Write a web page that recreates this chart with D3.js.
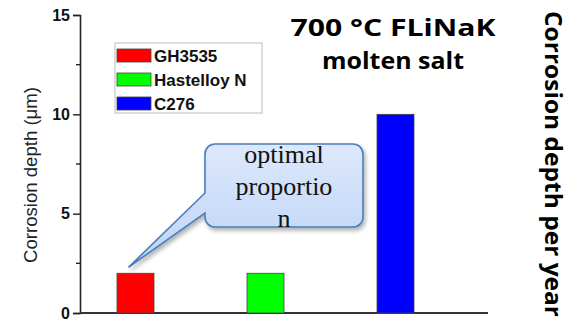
<!DOCTYPE html>
<html>
<head>
<meta charset="utf-8">
<script src="https://cdn.jsdelivr.net/npm/d3@7"></script>
<style>
  body { margin: 0; background: #fff; }
  svg { display: block; }
</style>
</head>
<body>
<div id="chart"></div>
<script>
var W = 573, H = 323;

// data
var categories = ["GH3535", "Hastelloy N", "C276"];
var depths = [2, 2, 10];
var barColors = ["#ff0000", "#00ff00", "#0000ff"];
var yTicks = [0, 5, 10, 15];
var yMinorTicks = [2.5, 7.5, 12.5];
var calloutLines = ["optimal", "proportio", "n"];
var titleLines = ["700 \u00b0C FLiNaK", "molten salt"];
var titleWidths = [205, 142];

var svg = d3.select("#chart").append("svg")
  .attr("width", W)
  .attr("height", H);

var y = d3.scaleLinear().domain([0, 15]).range([313, 15]);
var x = d3.scalePoint().domain(categories).range([135.5, 395.5]);
var barW = 37;

// axes
var yAxis = d3.axisLeft(y).tickValues(yTicks).tickSize(7).tickPadding(3);
var gy = svg.append("g").attr("transform", "translate(80,0)").call(yAxis);
gy.select(".domain").attr("stroke", "#222").attr("stroke-width", 1.6);
gy.selectAll(".tick line").attr("stroke", "#222").attr("stroke-width", 1.4);
gy.selectAll(".tick text")
  .attr("font-family", "Liberation Sans, Arial, sans-serif")
  .attr("font-weight", "bold")
  .attr("font-size", 16)
  .attr("fill", "#111");

// minor ticks
svg.append("g").selectAll("line")
  .data(yMinorTicks)
  .enter()
  .append("line")
  .attr("x1", 76).attr("x2", 80)
  .attr("y1", function(d){ return y(d); })
  .attr("y2", function(d){ return y(d); })
  .attr("stroke", "#222")
  .attr("stroke-width", 1.4);

// x axis line
svg.append("line")
  .attr("x1", 80).attr("x2", 488)
  .attr("y1", y(0)).attr("y2", y(0))
  .attr("stroke", "#333")
  .attr("stroke-width", 2);

// y label
svg.append("text")
  .attr("transform", "translate(37,175) rotate(-90)")
  .attr("text-anchor", "middle")
  .attr("font-family", "Liberation Sans, Arial, sans-serif")
  .attr("font-size", 18)
  .attr("fill", "#222")
  .attr("textLength", 176)
  .attr("lengthAdjust", "spacingAndGlyphs")
  .text("Corrosion depth (\u03bcm)");

// bars
svg.append("g").selectAll("rect")
  .data(depths)
  .enter()
  .append("rect")
  .attr("x", function(d, i){ return x(categories[i]) - barW / 2; })
  .attr("y", function(d){ return y(d); })
  .attr("width", barW)
  .attr("height", function(d){ return y(0) - y(d); })
  .attr("fill", function(d, i){ return barColors[i]; })
  .attr("stroke", "#444")
  .attr("stroke-width", 0.8);

// legend
var legend = svg.append("g").attr("transform", "translate(115,43)");
legend.append("rect")
  .attr("x", 0).attr("y", 0)
  .attr("width", 147).attr("height", 70)
  .attr("fill", "#fff")
  .attr("stroke", "#bbb")
  .attr("stroke-width", 1);
var items = legend.selectAll(".item")
  .data(categories)
  .enter()
  .append("g")
  .attr("class", "item")
  .attr("transform", function(d, i){ return "translate(2," + (6 + i * 24) + ")"; });
items.append("rect")
  .attr("width", 34).attr("height", 13)
  .attr("fill", function(d, i){ return barColors[i]; })
  .attr("stroke", "#444")
  .attr("stroke-width", 0.8);
items.append("text")
  .attr("x", 37).attr("y", 13)
  .attr("font-family", "Liberation Sans, Arial, sans-serif")
  .attr("font-weight", "bold")
  .attr("font-size", 17)
  .attr("fill", "#111")
  .text(String);

// callout
var defs = svg.append("defs");
var grad = defs.append("linearGradient")
  .attr("id", "callGrad")
  .attr("x1", 0).attr("y1", 0).attr("x2", 0).attr("y2", 1);
grad.append("stop").attr("offset", "0%").attr("stop-color", "#dde8fb");
grad.append("stop").attr("offset", "100%").attr("stop-color", "#bcd3f6");
var shadow = defs.append("filter").attr("id", "shadow")
  .attr("x", "-10%").attr("y", "-10%").attr("width", "130%").attr("height", "140%");
shadow.append("feDropShadow")
  .attr("dx", 2).attr("dy", 3).attr("stdDeviation", 2)
  .attr("flood-color", "#000").attr("flood-opacity", 0.3);

var bx0 = 205, by0 = 144, bx1 = 363, by1 = 227, r = 10;
var tipX = x(categories[0]) - 7, tipY = y(depths[0]) - 6;
var p = d3.path();
p.moveTo(bx0 + r, by0);
p.lineTo(bx1 - r, by0);
p.arcTo(bx1, by0, bx1, by0 + r, r);
p.lineTo(bx1, by1 - r);
p.arcTo(bx1, by1, bx1 - r, by1, r);
p.lineTo(bx0 + r, by1);
p.arcTo(bx0, by1, bx0, by1 - r, r);
p.lineTo(bx0, 213);
p.lineTo(tipX, tipY);
p.lineTo(bx0, 193);
p.lineTo(bx0, by0 + r);
p.arcTo(bx0, by0, bx0 + r, by0, r);
p.closePath();
svg.append("path")
  .attr("d", p.toString())
  .attr("fill", "url(#callGrad)")
  .attr("stroke", "#4a7ebb")
  .attr("stroke-width", 1.6)
  .attr("filter", "url(#shadow)");

svg.append("g").selectAll("text")
  .data(calloutLines)
  .enter()
  .append("text")
  .attr("x", 284)
  .attr("y", function(d, i){ return 163 + i * 32; })
  .attr("text-anchor", "middle")
  .attr("font-family", "Liberation Serif, Times New Roman, serif")
  .attr("font-size", 26)
  .attr("fill", "#111")
  .text(String);

// title
svg.append("g").selectAll("text")
  .data(titleLines)
  .enter()
  .append("text")
  .attr("x", 393)
  .attr("y", function(d, i){ return 36 + i * 33; })
  .attr("text-anchor", "middle")
  .attr("font-family", "Open Sans, Noto Sans, sans-serif")
  .attr("font-weight", "bold")
  .attr("font-size", 24)
  .attr("textLength", function(d, i){ return titleWidths[i]; })
  .attr("lengthAdjust", "spacingAndGlyphs")
  .attr("fill", "#000")
  .text(String);

// right label
svg.append("text")
  .attr("transform", "translate(545,164) rotate(90)")
  .attr("text-anchor", "middle")
  .attr("font-family", "Open Sans, Noto Sans, sans-serif")
  .attr("font-weight", "bold")
  .attr("font-size", 24)
  .attr("textLength", 306)
  .attr("lengthAdjust", "spacingAndGlyphs")
  .attr("fill", "#000")
  .text("Corrosion depth per year");
</script>
</body>
</html>
